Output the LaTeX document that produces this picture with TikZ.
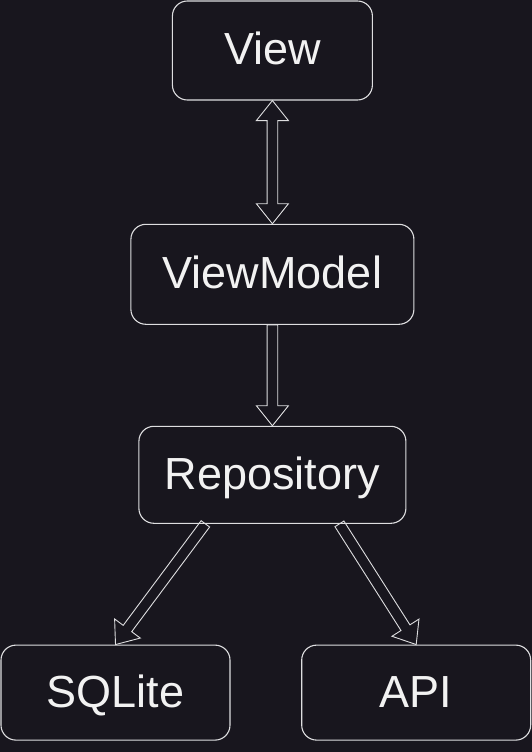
\documentclass[tikz,border=0pt]{standalone}
\usepackage{fontspec}
\setmainfont{Liberation Sans}
\usetikzlibrary{positioning,calc}

\definecolor{bg}{RGB}{24,22,30}
\definecolor{edge}{RGB}{222,222,224}
\definecolor{txt}{RGB}{242,242,242}

\tikzset{
    box/.style={draw=edge, line width=1.1pt, fill=bg, text=txt, rounded corners=15pt,
        inner sep=0pt, text height=32pt, text depth=3pt, font=\fontsize{45}{54}\selectfont},
    % hollow block arrow, head at the target
    fat/.style={draw=edge, line width=.9pt, to path={
        let \p1=(\tikztostart), \p2=(\tikztotarget), \p3=($(\p2)!20pt!(\p1)$) in
        ($(\p1)!5.3pt!90:(\p2)$) -- ($(\p3)!5.3pt!90:(\p2)$) -- ($(\p3)!16pt!90:(\p2)$) -- (\p2)
        -- ($(\p3)!16pt!-90:(\p2)$) -- ($(\p3)!5.3pt!-90:(\p2)$) -- ($(\p1)!5.3pt!-90:(\p2)$) -- cycle}},
    % hollow block arrow, heads at both ends
    fatboth/.style={draw=edge, line width=.9pt, to path={
        let \p1=(\tikztostart), \p2=(\tikztotarget), \p3=($(\p2)!20pt!(\p1)$), \p4=($(\p1)!20pt!(\p2)$) in
        (\p1) -- ($(\p4)!16pt!90:(\p2)$) -- ($(\p4)!5.3pt!90:(\p2)$) -- ($(\p3)!5.3pt!90:(\p2)$)
        -- ($(\p3)!16pt!90:(\p2)$) -- (\p2) -- ($(\p3)!16pt!-90:(\p2)$) -- ($(\p3)!5.3pt!-90:(\p2)$)
        -- ($(\p4)!5.3pt!-90:(\p2)$) -- ($(\p4)!16pt!-90:(\p2)$) -- cycle}}
}

\begin{document}
\begin{tikzpicture}[x=1pt, y=-1pt]

    \def\mid{272.4}
    \def\low{692.6}
    \fill [bg] (0, 0) rectangle (532, 752);

    \node [box, minimum width=200pt, minimum height=99pt] (view) at (\mid, 50.5) {View};
    \node [box, minimum width=283pt, minimum height=100pt] (vm) at (\mid, 274.3) {ViewModel};
    \node [box, minimum width=267pt, minimum height=97pt] (repo) at (\mid, 474.8) {Repository};
    \node [box, minimum width=229pt, minimum height=95pt] (sqlite) at (115.5, \low) {SQLite};
    \node [box, minimum width=229pt, minimum height=95pt] (api) at (416.2, \low) {API};

    \coordinate (repoL) at ($(repo.south west)!.25!(repo.south east)$);
    \coordinate (repoR) at ($(repo.south west)!.75!(repo.south east)$);

    \draw [fatboth] (view.south) to (vm.north);
    \draw [fat] (vm.south) to (repo.north);
    \draw [fat] (repoL) to (sqlite.north);
    \draw [fat] (repoR) to (api.north);

\end{tikzpicture}
\end{document}
